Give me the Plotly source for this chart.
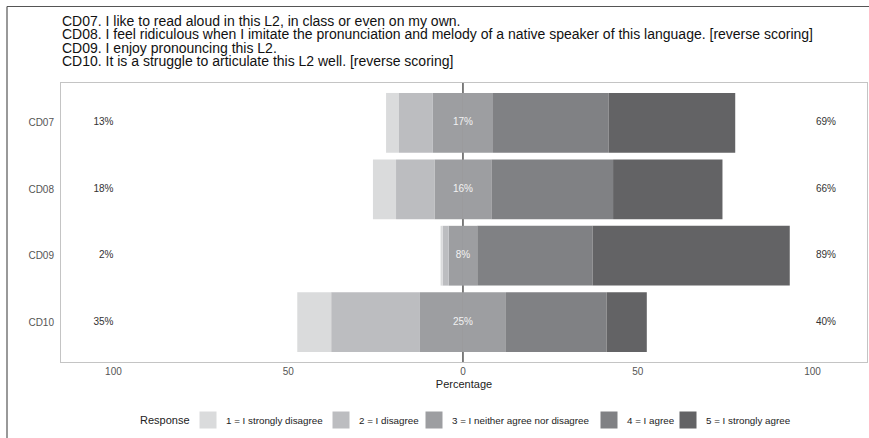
import plotly.graph_objects as go

items = ["CD07", "CD08", "CD09", "CD10"]
strongly_disagree = [3.7, 6.6, 0.6, 9.7]
disagree = [9.7, 11.0, 1.7, 25.4]
neutral = [17.2, 16.3, 8.2, 24.6]
agree = [33.1, 34.8, 33.0, 28.8]
strongly_agree = [36.2, 31.3, 56.4, 11.5]
low_labels = ["13%", "18%", "2%", "35%"]
neutral_labels = ["17%", "16%", "8%", "25%"]
high_labels = ["69%", "66%", "89%", "40%"]
x_ticks = [-100, -50, 0, 50, 100]
x_tick_text = ["100", "50", "0", "50", "100"]
response_names = ["1 = I strongly disagree", "2 = I disagree",
                  "3 = I neither agree nor disagree", "4 = I agree",
                  "5 = I strongly agree"]
title_lines = [
    "CD07. I like to read aloud in this L2, in class or even on my own.",
    "CD08. I feel ridiculous when I imitate the pronunciation and melody of a native speaker of this language. [reverse scoring]",
    "CD09. I enjoy pronouncing this L2.",
    "CD10. It is a struggle to articulate this L2 well. [reverse scoring]",
]

colors = ["#dadbdc", "#bcbdc0", "#9d9ea1", "#808184", "#636365"]
FONT = "Liberation Sans, Arial, sans-serif"

W, H = 869, 438
L, R, T, B = 61, 2, 83, 76
pw, ph = W - L - R, H - T - B


def px_x(p):
    return (p - L) / pw


def px_y(p):
    return (H - B - p) / ph


fig = go.Figure()
half_n = [n / 2 for n in neutral]
common = dict(y=items, orientation="h", width=0.9, hoverinfo="skip",
              showlegend=False, marker_line_width=0)
fig.add_trace(go.Bar(x=[-h for h in half_n], marker_color=colors[2], **common))
fig.add_trace(go.Bar(x=half_n, marker_color=colors[2], **common))
fig.add_trace(go.Bar(x=[-v for v in disagree], marker_color=colors[1], **common))
fig.add_trace(go.Bar(x=agree, marker_color=colors[3], **common))
fig.add_trace(go.Bar(x=[-v for v in strongly_disagree], marker_color=colors[0], **common))
fig.add_trace(go.Bar(x=strongly_agree, marker_color=colors[4], **common))

# percentage labels
fig.add_trace(go.Scatter(x=[-100] * 4, y=items, mode="text", text=low_labels,
                         textposition="middle left", showlegend=False, hoverinfo="skip",
                         textfont=dict(family=FONT, size=10, color="#333333")))
fig.add_trace(go.Scatter(x=[0] * 4, y=items, mode="text", text=neutral_labels,
                         textposition="middle center", showlegend=False, hoverinfo="skip",
                         textfont=dict(family=FONT, size=10, color="#f2f2f2")))
fig.add_trace(go.Scatter(x=[101] * 4, y=items, mode="text", text=high_labels,
                         textposition="middle right", showlegend=False, hoverinfo="skip",
                         textfont=dict(family=FONT, size=10, color="#333333")))

shapes = [
    dict(type="line", xref="x", yref="paper", x0=0, x1=0, y0=0, y1=1,
         line=dict(color="#555555", width=1.5), layer="below"),
    # outer frame lines (cropped figure border)
    dict(type="line", xref="paper", yref="paper", x0=px_x(7), x1=px_x(W + 5),
         y0=px_y(6.5), y1=px_y(6.5), line=dict(color="#555555", width=1.2)),
    dict(type="line", xref="paper", yref="paper", x0=px_x(7), x1=px_x(7),
         y0=px_y(6.5), y1=px_y(H + 5), line=dict(color="#555555", width=1.2)),
]

annotations = []
title_y = [21.2, 34.4, 47.6, 60.8]
for line, yy in zip(title_lines, title_y):
    annotations.append(dict(text=line, xref="paper", yref="paper", x=px_x(60), y=px_y(yy),
                            xanchor="left", yanchor="middle", showarrow=False,
                            font=dict(family=FONT, size=14, color="#111111")))

# manual legend
legend_y = 420
annotations.append(dict(text="Response", xref="paper", yref="paper", x=px_x(192), y=px_y(legend_y),
                        xanchor="right", yanchor="middle", showarrow=False,
                        font=dict(family=FONT, size=11, color="#222222")))
box_x = [199, 332, 425, 600, 679]
for name, c, bx in zip(response_names, colors, box_x):
    shapes.append(dict(type="rect", xref="paper", yref="paper",
                       x0=px_x(bx), x1=px_x(bx + 18), y0=px_y(legend_y + 9), y1=px_y(legend_y - 9),
                       fillcolor=c, line=dict(color="white", width=1)))
    annotations.append(dict(text=name, xref="paper", yref="paper", x=px_x(bx + 25), y=px_y(legend_y),
                            xanchor="left", yanchor="middle", showarrow=False,
                            font=dict(family=FONT, size=9.8, color="#222222")))

fig.update_layout(
    width=W, height=H,
    margin=dict(l=L, r=R, t=T, b=B),
    barmode="relative", bargap=0.1,
    plot_bgcolor="white", paper_bgcolor="white",
    font=dict(family=FONT, color="#4d4d4d"),
    shapes=shapes, annotations=annotations,
    xaxis=dict(range=[-115, 115.6], tickvals=x_ticks, ticktext=x_tick_text,
               showgrid=False, zeroline=False,
               showline=True, mirror=True, linecolor="#c4c4c4", linewidth=1,
               ticks="", tickfont=dict(family=FONT, size=10, color="#555555"),
               title=dict(text="Percentage", standoff=4,
                          font=dict(family=FONT, size=11, color="#222222"))),
    yaxis=dict(range=[3.6, -0.6], showgrid=False, zeroline=False,
               showline=True, mirror=True, linecolor="#c4c4c4", linewidth=1,
               ticks="", ticklabelstandoff=4,
               tickfont=dict(family=FONT, size=10, color="#555555")),
)

fig.write_html("out.html", config={"displayModeBar": False},
               post_script="document.body.style.margin='0px';")
